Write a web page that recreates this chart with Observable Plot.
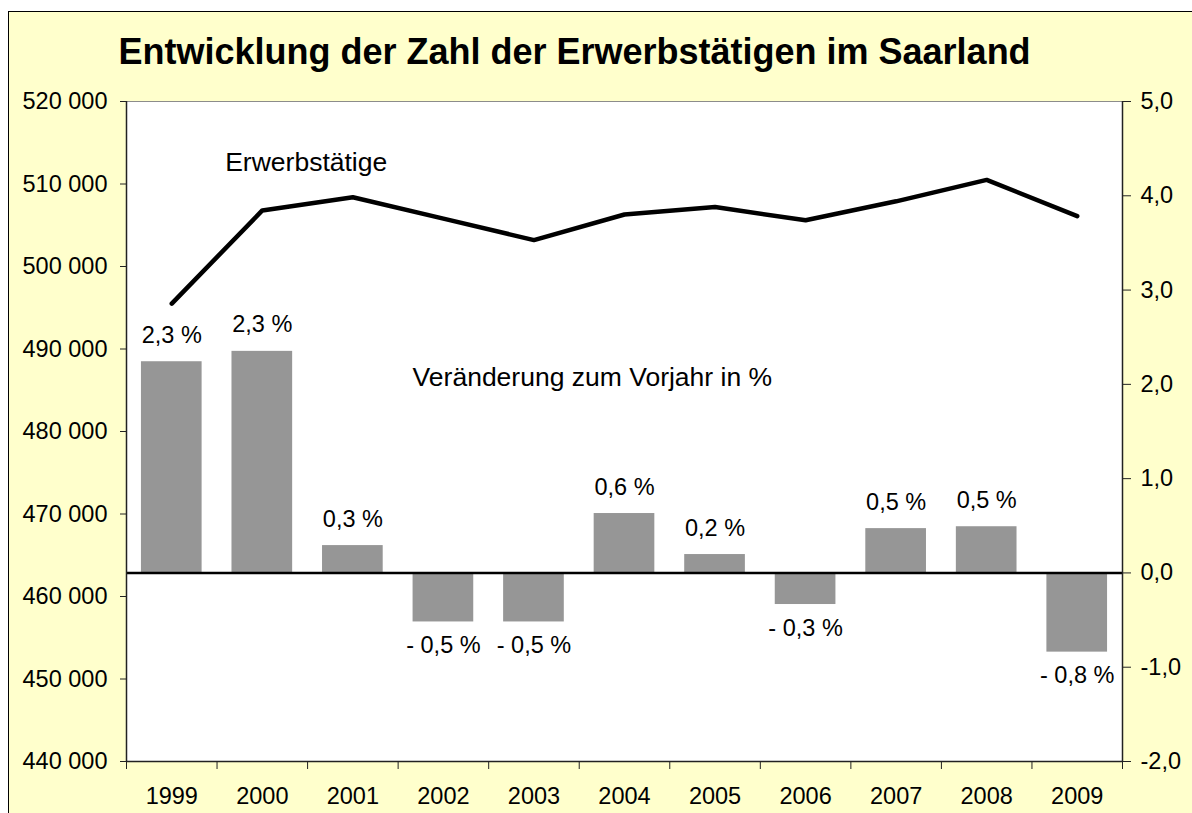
<!DOCTYPE html>
<html>
<head>
<meta charset="utf-8">
<script src="https://cdn.jsdelivr.net/npm/d3@7"></script>
<script src="https://cdn.jsdelivr.net/npm/@observablehq/plot@0.6"></script>
<style>
  html, body { margin: 0; padding: 0; background: #fff; }
  #wrap { position: relative; width: 1192px; height: 813px; overflow: hidden; background: #fff; }
  #frame { position: absolute; left: 8px; top: 11px; width: 1200px; height: 820px; background: #FFFFCC; border: 1px solid #000; }
  .layer { position: absolute; left: 0; top: 0; }
</style>
</head>
<body>
<div id="wrap"><div id="frame"></div><div id="bars" class="layer"></div><div id="line" class="layer"></div></div>
<script>
const titleText = "Entwicklung der Zahl der Erwerbstätigen im Saarland";
const years = [1999, 2000, 2001, 2002, 2003, 2004, 2005, 2006, 2007, 2008, 2009];
const employed = [495500, 506800, 508400, 505800, 503200, 506300, 507200, 505600, 507900, 510500, 506100];
const changePct = [2.24, 2.35, 0.29, -0.52, -0.52, 0.63, 0.195, -0.335, 0.47, 0.49, -0.84];
const changeLabels = ["2,3 %", "2,3 %", "0,3 %", "- 0,5 %", "- 0,5 %", "0,6 %", "0,2 %", "- 0,3 %", "0,5 %", "0,5 %", "- 0,8 %"];
const leftTicks = [440000, 450000, 460000, 470000, 480000, 490000, 500000, 510000, 520000];
const rightTicks = [-2, -1, 0, 1, 2, 3, 4, 5];
const lineNote = [{text: "Erwerbstätige", year: 1999.59, value: 511600}];
const barNote = [{text: "Veränderung zum Vorjahr in %", year: 2001.66, value: 1.98}];

const rows = years.map((y, i) => ({year: y, employed: employed[i], pct: changePct[i], label: changeLabels[i]}));
const boundaries = years.map(y => y - 0.5).concat([years[years.length - 1] + 0.5]);
const xDomain = [boundaries[0], boundaries[boundaries.length - 1]];
const font = "'Liberation Sans', Arial, sans-serif";
const common = {
  width: 1192, height: 813,
  marginLeft: 126, marginRight: 70, marginTop: 101, marginBottom: 52,
  style: {fontFamily: font, fontSize: "23px", color: "#000", background: "transparent", overflow: "visible"}
};
const halfBar = 0.335;

const bars = Plot.plot({
  ...common,
  x: {domain: xDomain, axis: null},
  y: {domain: [rightTicks[0], rightTicks[rightTicks.length - 1]], axis: null},
  marks: [
    Plot.frame({fill: "white", stroke: "#8c8c8c"}),
    Plot.rectY(rows, {x1: d => d.year - halfBar, x2: d => d.year + halfBar, y1: 0, y2: "pct", fill: "#969696"}),
    Plot.ruleY([0], {stroke: "#000", strokeWidth: 2.5}),
    Plot.text(rows.filter(d => d.pct >= 0), {x: "year", y: "pct", text: "label", lineAnchor: "bottom", dy: -19, fontSize: 23.5}),
    Plot.text(rows.filter(d => d.pct < 0), {x: "year", y: "pct", text: "label", lineAnchor: "bottom", dy: 31, fontSize: 23.5}),
    Plot.text(barNote, {x: "year", y: "value", text: "text", textAnchor: "start", lineAnchor: "bottom", fontSize: 26.5}),
    Plot.ruleX(xDomain, {stroke: "#222", strokeWidth: 1.5}),
    Plot.ruleY([rightTicks[0]], {stroke: "#222", strokeWidth: 1.5}),
    Plot.axisX({ticks: years, tickSize: 0, tickPadding: 26, tickFormat: d => String(d), fontSize: 23.5, label: null}),
    Plot.axisX({ticks: boundaries, tickSize: 8, tickFormat: () => "", stroke: "#222", label: null}),
    Plot.axisY({anchor: "right", ticks: rightTicks, tickSize: 8, tickPadding: 10, stroke: "#222", label: null,
      tickFormat: d => d.toFixed(1).replace(".", ","), fontSize: 23.5}),
    Plot.text([titleText], {frameAnchor: "top", dx: -50, dy: -38, lineAnchor: "bottom", fontSize: 36, fontWeight: "bold"})
  ]
});
document.getElementById("bars").appendChild(bars);

const line = Plot.plot({
  ...common,
  x: {domain: xDomain, axis: null},
  y: {domain: [leftTicks[0], leftTicks[leftTicks.length - 1]], axis: null},
  marks: [
    Plot.line(rows, {x: "year", y: "employed", stroke: "#000", strokeWidth: 4.5, strokeLinejoin: "miter"}),
    Plot.text(lineNote, {x: "year", y: "value", text: "text", textAnchor: "start", lineAnchor: "bottom", fontSize: 26.5}),
    Plot.axisY({anchor: "left", ticks: leftTicks, tickSize: 6, tickPadding: 13, stroke: "#222", label: null,
      tickFormat: d => d3.format(",")(d).replace(/,/g, " "), fontSize: 23.5})
  ]
});
document.getElementById("line").appendChild(line);
</script>
</body>
</html>
